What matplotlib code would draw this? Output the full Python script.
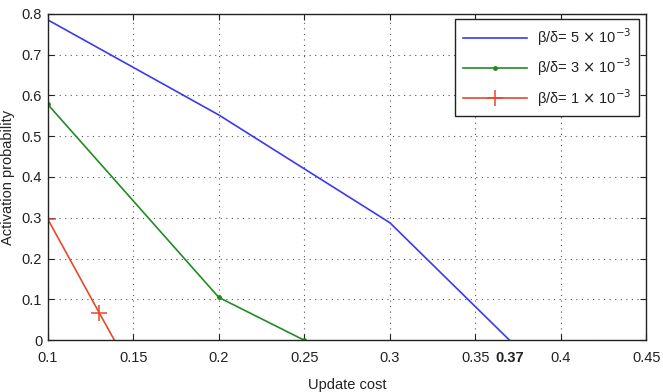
import matplotlib.pyplot as plt

plt.rcParams['font.family'] = ['Liberation Sans', 'DejaVu Sans']

# data
cost_a = [0.1, 0.2, 0.3, 0.37]
prob_a = [0.785, 0.552, 0.288, 0.0]

cost_b = [0.1, 0.2, 0.25]
prob_b = [0.578, 0.105, 0.0]

cost_c = [0.1, 0.13, 0.139]
prob_c = [0.297, 0.068, 0.0]

labels = [r"β/δ= 5 $\times$ 10$^{-3}$",
          r"β/δ= 3 $\times$ 10$^{-3}$",
          r"β/δ= 1 $\times$ 10$^{-3}$"]

xticks = [0.1, 0.15, 0.2, 0.25, 0.3, 0.35, 0.4, 0.45]
yticks = [0, 0.1, 0.2, 0.3, 0.4, 0.5, 0.6, 0.7, 0.8]

fig, ax = plt.subplots(figsize=(6.63, 3.92), dpi=100)
fig.subplots_adjust(left=0.072, right=0.975, top=0.965, bottom=0.132)

ax.plot(cost_a, prob_a, color="#3a3aee", lw=1.2, label=labels[0])
ax.plot(cost_b, prob_b, color="#228b22", lw=1.2, marker=".", ms=5,
        label=labels[1])
ax.plot(cost_c, prob_c, color="#e8482a", lw=1.2, marker="+", ms=11,
        mew=1.1, markevery=[0, 1], label=labels[2])

ax.set_xlim(0.1, 0.45)
ax.set_ylim(0, 0.8)
ax.set_xticks(xticks)
ax.set_xticklabels([f"{t:g}" for t in xticks])
ax.set_yticks(yticks)
ax.set_yticklabels([f"{t:g}" for t in yticks])

# extra bold label at the blue curve's zero crossing
ax.set_xticks([0.37], minor=True)
ax.set_xticklabels(["0.37"], minor=True, fontweight="bold")

ax.tick_params(axis="both", which="major", direction="in", top=True,
               right=True, length=4, labelsize=10.5, colors="#222222")
ax.tick_params(axis="x", which="major", pad=8)
ax.tick_params(axis="y", which="major", pad=4)
ax.tick_params(axis="x", which="minor", length=0, pad=8, labelsize=10.5,
               colors="#222222")

ax.grid(True, which="major", linestyle=(0, (1, 4)), color="#555555", lw=0.8)
for s in ax.spines.values():
    s.set_linewidth(1.0)
    s.set_color("#222222")

ax.set_xlabel("Update cost", fontsize=10.5, labelpad=9, color="#222222")
ax.set_ylabel("Activation probability", fontsize=10.5, labelpad=5,
              color="#222222")

leg = ax.legend(loc="upper right", fontsize=10.5, fancybox=False,
                framealpha=1, edgecolor="#222222", handlelength=4.4,
                handletextpad=0.7, borderpad=0.5, labelspacing=0.6,
                borderaxespad=0, bbox_to_anchor=(0.987, 0.985))
leg.get_frame().set_linewidth(1.0)
for t in leg.get_texts():
    t.set_color("#222222")

plt.savefig("out.png", dpi=100)
